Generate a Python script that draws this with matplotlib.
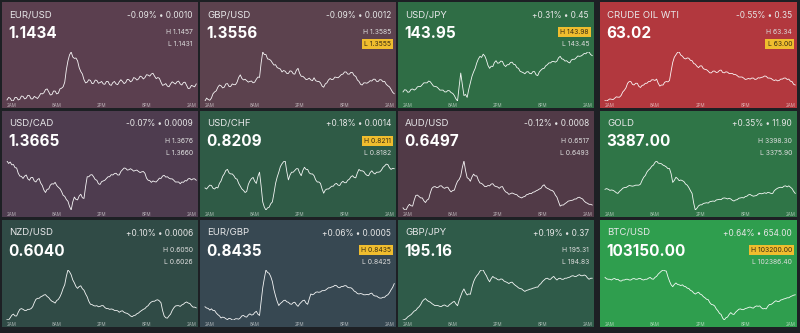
import numpy as np
import matplotlib
matplotlib.use("Agg")
import matplotlib.pyplot as plt

plt.rcParams['font.family'] = ['Inter', 'DejaVu Sans']

# ---------------- data ----------------
symbols = ['EUR/USD', 'GBP/USD', 'USD/JPY', 'CRUDE OIL WTI',
           'USD/CAD', 'USD/CHF', 'AUD/USD', 'GOLD',
           'NZD/USD', 'EUR/GBP', 'GBP/JPY', 'BTC/USD']
prices = ['1.1434', '1.3556', '143.95', '63.02',
          '1.3665', '0.8209', '0.6497', '3387.00',
          '0.6040', '0.8435', '195.16', '103150.00']
changes = ['-0.09% • 0.0010', '-0.09% • 0.0012', '+0.31% • 0.45', '-0.55% • 0.35',
           '-0.07% • 0.0009', '+0.18% • 0.0014', '-0.12% • 0.0008', '+0.35% • 11.90',
           '+0.10% • 0.0006', '+0.06% • 0.0005', '+0.19% • 0.37', '+0.64% • 654.00']
highs = ['1.1457', '1.3585', '143.98', '63.34',
         '1.3676', '0.8211', '0.6517', '3398.30',
         '0.6050', '0.8435', '195.31', '103200.00']
lows = ['1.1431', '1.3555', '143.45', '63.00',
        '1.3660', '0.8182', '0.6493', '3375.90',
        '0.6026', '0.8425', '194.83', '102386.40']
highlight = ['', 'L', 'H', 'L',
             '', 'H', '', '',
             '', 'H', '', 'H']
panel_colors = ['#5b3f4f', '#5c424e', '#2f6d45', '#b2383e',
                '#4e3c4f', '#2f5b46', '#513a47', '#2f7547',
                '#304b46', '#374852', '#2f5b49', '#2f9e4e']

time_labels = ['2AM', '8AM', '2PM', '8PM', '2AM']
time_ticks = [0, 6, 12, 18, 24]

eur_usd = [5,12,10,2,3,12,12,5,7,16,15,8,10,18,17,8,8,15,12,9,15,23,22,25,34,36,28,19,20,30,
           30,22,24,36,38,42,55,90,115,132,140,126,122,123,115,96,85,78,62,53,55,62,60,51,52,61,
           60,52,54,57,50,49,57,57,48,46,54,57,50,48,56,62,57,51,54,63,62,56,59,68,66,61,64,72,
           70,64,68,76,75,72,78,80,72,65,68,66,55,46,48,51,44,42,50,56,53,50,56,58,50,47,54,55,
           46,37,38,46,44,42,50]
gbp_usd = [0,8,4,2,8,20,25,28,38,44,42,36,38,47,48,40,40,47,45,45,52,65,72,62,58,60,56,52,54,
           55,50,52,60,66,65,105,135,128,128,116,115,112,105,99,100,92,90,88,80,84,82,76,76,83,
           82,75,74,85,90,76,68,68,64,59,60,63,58,56,64,56,54,54,50,41,38,47,50,58,62,59,60,66,
           65,64,68,73,74,80,80,74,74,79,78,70,68,58,54,46,44,50,50,49,52,56,55,60,60,54,54,59,
           58,53,54,46,42,39,32,24,20]
usd_jpy = [35,41,40,34,35,42,43,40,43,49,50,50,55,60,60,60,65,63,57,51,50,49,45,40,40,40,35,35,
           39,38,33,31,25,16,10,50,87,55,25,28,20,42,60,78,90,100,115,126,133,130,139,134,123,
           108,100,106,105,116,121,114,115,120,119,109,105,110,110,116,117,111,110,102,100,92,
           90,88,85,90,91,86,85,91,91,82,80,90,95,99,100,107,110,115,115,119,119,117,120,129,
           133,126,125,120,121,117,115,123,125,125,129,134,133,134,137,141,140,145,145,138,135]
crude = [5,4,7,10,9,8,12,16,15,15,20,30,35,42,55,60,60,52,50,55,55,46,43,49,50,55,55,60,60,65,
         65,63,67,55,47,50,50,58,60,59,63,90,115,130,137,144,145,136,133,127,125,128,127,121,
         120,112,110,104,100,105,105,97,95,94,90,85,85,90,90,86,87,92,93,86,85,88,87,83,83,83,
         80,80,77,73,73,73,70,66,67,69,67,70,70,66,67,71,70,72,73,76,75,70,70,69,65,63,65,62,
         63,67,67,70,70,66,67,61,60,52,50]
usd_cad = [145,138,142,134,135,126,125,110,102,101,95,102,105,94,90,98,98,88,85,92,95,82,75,62,
           55,64,65,76,80,79,84,75,70,66,58,47,44,35,30,15,5,28,42,35,34,45,50,40,38,72,100,100,
           105,106,100,92,90,80,78,86,88,90,95,100,100,106,105,109,110,105,105,115,120,125,124,
           119,120,123,120,116,118,119,115,112,114,115,110,96,90,89,84,88,86,85,90,96,95,102,104,
           99,100,96,94,94,90,85,85,85,80,85,84,89,88,94,95,91,94,94,90]
usd_chf = [65,62,68,73,72,64,62,67,65,78,85,98,105,115,118,108,105,105,100,92,90,78,70,62,58,52,
           55,75,85,92,95,84,78,98,110,70,25,10,2,8,10,20,25,50,78,96,110,126,134,140,142,112,88,
           102,110,110,115,120,120,108,100,115,124,118,118,108,105,105,100,88,82,82,78,62,50,59,
           62,62,66,70,70,76,78,73,72,80,84,80,80,87,90,97,100,95,94,108,118,114,114,112,105,101,
           100,109,114,108,105,110,110,111,116,124,128,133,132,123,118,121,120]
aud_usd = [10,4,5,14,20,16,15,32,45,46,42,38,38,30,25,32,35,52,65,69,70,67,68,72,72,67,65,68,68,
           60,55,59,60,74,85,90,100,124,142,115,95,92,85,97,105,100,100,88,80,79,75,70,70,73,72,
           77,78,72,70,69,65,69,70,61,55,53,48,50,52,50,48,47,42,40,38,41,42,47,48,51,50,54,55,
           58,60,63,65,72,75,68,65,63,60,59,55,46,40,27,15,18,18,22,25,29,30,31,32,35,35,39,40,
           37,35,29,25,23,20,20,18]
gold = [70,72,70,67,68,67,64,60,58,64,68,73,75,75,78,81,80,79,80,82,82,82,85,96,105,110,120,126,
        130,137,140,148,152,146,145,144,140,138,135,130,130,115,90,96,105,101,95,97,95,92,85,82,
        75,66,58,30,10,15,22,25,25,29,30,31,30,34,35,36,35,39,40,41,40,44,45,44,42,44,42,38,36,
        39,40,44,45,46,45,49,50,54,55,52,50,51,52,56,58,57,58,60,58,61,60,58,58,66,70,73,75,76,
        75,79,80,77,80,76,72,64,58]
nzd_usd = [20,19,25,32,35,30,30,40,48,50,48,45,45,48,48,50,55,66,75,78,78,82,84,87,88,83,80,74,
           70,68,65,72,75,82,92,105,115,138,155,150,142,128,120,110,105,110,112,104,100,90,82,70,
           62,61,58,57,58,55,56,58,58,53,50,50,48,49,48,45,45,44,40,43,44,40,38,37,34,30,28,31,
           32,36,38,42,45,48,50,55,58,64,68,70,70,73,74,71,66,45,30,25,24,30,35,45,52,57,58,58,
           56,60,62,66,68,65,64,58,54,54,52]
eur_gbp = [49,46,45,41,44,40,40,34,30,27,22,24,23,20,18,21,20,17,17,20,20,19,22,27,28,25,24,29,
           32,29,30,35,38,31,28,62,95,118,138,132,130,122,110,90,75,62,52,57,60,64,65,61,60,56,
           55,59,60,54,50,56,60,64,65,58,55,68,80,78,80,84,85,84,85,88,88,89,92,95,95,97,98,101,
           100,96,95,98,98,100,100,96,95,95,92,87,85,81,80,81,80,78,78,79,78,81,82,77,75,75,72,
           70,70,72,72,76,78,83,90,96,105]
gbp_jpy = [3,4,7,12,15,18,23,28,30,36,40,46,55,60,63,58,55,53,49,46,43,44,43,41,41,44,45,42,41,
           46,49,53,55,48,43,58,70,82,90,80,73,76,75,95,110,120,127,132,140,143,143,134,127,117,
           110,119,125,121,120,116,115,118,117,112,110,108,105,108,109,104,100,97,93,91,90,86,83,
           86,87,89,90,92,93,95,95,101,105,111,115,119,120,117,117,122,125,119,115,119,120,117,
           117,120,120,122,123,126,127,125,125,128,130,127,127,129,127,121,117,120,120]
btc_usd = [130,126,125,125,123,126,127,124,125,121,120,123,123,125,125,123,123,126,127,125,125,
           127,127,124,123,125,125,128,130,126,125,130,133,139,143,147,150,148,147,132,120,110,
           105,111,115,111,110,108,110,106,105,101,100,95,93,88,85,88,90,85,83,78,75,71,70,62,57,
           56,53,45,40,33,30,20,15,21,23,30,35,31,30,36,40,44,45,43,43,46,47,49,50,48,47,51,53,
           52,53,48,45,46,45,52,57,57,60,64,67,65,65,69,70,72,73,75,75,78,80,82,83]

series = [eur_usd, gbp_usd, usd_jpy, crude,
          usd_cad, usd_chf, aud_usd, gold,
          nzd_usd, eur_gbp, gbp_jpy, btc_usd]

# ---------------- layout ----------------
W, H = 800, 333
fig = plt.figure(figsize=(W / 100, H / 100), dpi=100)
fig.patch.set_facecolor('#1d2024')

col_x = [2, 200, 398, 600]
col_w = [196, 196, 196, 197]
row_y = [2, 111, 220]
row_h = [106, 106, 107]

for i, sym in enumerate(symbols):
    r, c = divmod(i, 4)
    x0, w = col_x[c], col_w[c]
    y0, h = row_y[r], row_h[r]
    bg = fig.add_axes([x0 / W, 1 - (y0 + h) / H, w / W, h / H])
    bg.set_facecolor(panel_colors[i])
    bg.set_xticks([]); bg.set_yticks([])
    for s in bg.spines.values():
        s.set_visible(False)
    bg.set_xlim(0, w); bg.set_ylim(h, 0)

    bg.text(7, 13, sym, fontsize=6.9, color='#e8e8ea', va='center', ha='left')
    bg.text(6.5, 31, prices[i], fontsize=11, color='white', fontweight='bold',
            va='center', ha='left')
    bg.text(w - 5, 13, changes[i], fontsize=5.9, color='#e6e6e6', va='center', ha='right')
    th = bg.text(w - 5, 30, 'H ' + highs[i], fontsize=4.9, color='#dcdcdc',
                 va='center', ha='right')
    tl = bg.text(w - 5, 42, 'L ' + lows[i], fontsize=4.9, color='#dcdcdc',
                 va='center', ha='right')
    for key, t in (('H', th), ('L', tl)):
        if highlight[i] == key:
            t.set_color('#3a2c12')
            t.set_bbox(dict(boxstyle='square,pad=0.3', fc='#f0bd2e', ec='none'))

    # line chart
    vals = np.array(series[i], dtype=float)
    t = np.linspace(-0.6, 24.6, len(vals))
    ax = fig.add_axes([(x0 + 2) / W, 1 - (y0 + h - 7) / H, (w - 3) / W, (h - 57) / H])
    ax.patch.set_alpha(0)
    ax.plot(t, vals, color='white', lw=0.6, alpha=0.95)
    ax.set_xlim(-1.0, 24.7)
    ax.set_ylim(vals.min(), vals.max())
    ax.set_yticks([])
    ax.set_xticks(time_ticks)
    ax.set_xticklabels(time_labels)
    ax.tick_params(axis='x', length=0, pad=1.2, labelsize=3.2, labelcolor=(1, 1, 1, 0.6))
    for s in ax.spines.values():
        s.set_visible(False)

fig.savefig('out.png', dpi=100, facecolor=fig.get_facecolor())
